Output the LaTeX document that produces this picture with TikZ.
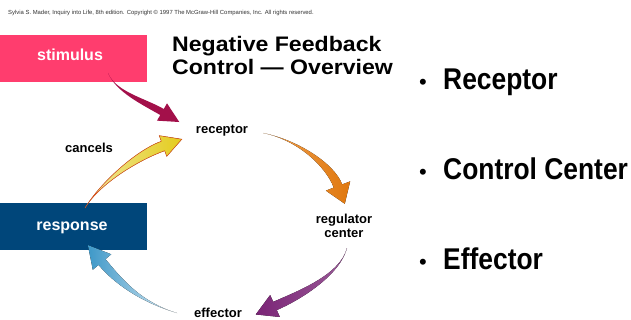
\documentclass[tikz,border=0pt]{standalone}
\usepackage{fontspec}
\setmainfont{Liberation Sans}
\usetikzlibrary{calc}
\definecolor{pinkbox}{HTML}{FF3D6E}
\definecolor{bluebox}{HTML}{00467A}
\definecolor{crimson}{HTML}{A3104A}
\definecolor{yelA}{HTML}{F0E8A0}
\definecolor{yelB}{HTML}{E4CC1C}
\definecolor{yelEdge}{HTML}{D8501C}
\definecolor{orgA}{HTML}{EFA050}
\definecolor{orgB}{HTML}{E0780E}
\definecolor{purA}{HTML}{9A5A98}
\definecolor{purB}{HTML}{7A2476}
\definecolor{bluA}{HTML}{3E98C8}
\definecolor{bluB}{HTML}{D6E8F2}
\newcommand{\tarrow}[8]{%
  \fill[#1] (#2) .. controls (#3) and ($(#4)!#6!-90:(#5)$) .. ($(#5)!#6!90:(#4)$)
    -- ($(#5)!#7!90:(#4)$) -- ($(#5)!-#8!(#4)$) -- ($(#5)!#7!-90:(#4)$)
    -- ($(#5)!#6!-90:(#4)$) .. controls ($(#4)!#6!90:(#5)$) and (#3) .. (#2) -- cycle;}
\tikzset{
  boxlabel/.style={text=white, font=\fontsize{16}{18}\selectfont\bfseries, anchor=base},
  cyclabel/.style={font=\fontsize{13}{14}\selectfont\bfseries, anchor=base, align=center},
  bullettext/.style={font=\fontsize{30}{32}\selectfont\bfseries, anchor=base west, inner sep=0pt},
  bulletdot/.style={font=\fontsize{22}{24}\selectfont, anchor=base, inner sep=0pt},
  titletext/.style={font=\fontsize{21}{23}\selectfont\bfseries, anchor=base west, inner sep=0pt}
}
\begin{document}
\begin{tikzpicture}[x=1pt,y=-1pt]
\useasboundingbox (0,0) rectangle (631,320);
\fill[white] (0,0) rectangle (631,320);
% copyright
\node[anchor=base west, inner sep=0pt, font=\fontsize{5.9}{6.5}\selectfont, text=black!80] (copy) at (8,15)
  {Sylvia S. Mader, Inquiry into Life, 8th edition. Copyright © 1997 The McGraw-Hill Companies, Inc. All rights reserved.};
% boxes
\fill[pinkbox] (0,35) rectangle (147,82);
\node[boxlabel] (stim) at (70,61) {stimulus};
\fill[bluebox] (0,203) rectangle (147,250);
\node[boxlabel] (resp) at (72,230) {response};
% title
\node[titletext] (t1) at (172,52) {\scalebox{1.1}[1]{Negative Feedback}};
\node[titletext] (t2) at (172,75) {\scalebox{1.1}[1]{Control — Overview}};
% cycle labels
\node[cyclabel] (rec) at (222,134) {receptor};
\node[cyclabel] (can) at (89,153) {cancels};
\node[cyclabel] (reg1) at (344,223) {regulator};
\node[cyclabel] (reg2) at (344,237) {center};
\node[cyclabel] (eff) at (218,317) {effector};
% arrows
\coordinate (sT) at (108,73); \coordinate (sC1) at (116,92); \coordinate (sC2) at (143,101); \coordinate (sE) at (162,112);
\tarrow{crimson}{sT}{sC1}{sC2}{sE}{3.5pt}{10pt}{20pt}
\coordinate (yT) at (85,208); \coordinate (yC1) at (100,183); \coordinate (yC2) at (138,155); \coordinate (yE) at (163,146);
\tarrow{left color=yelA,right color=yelB,draw=yelEdge,line width=0.5pt}{yT}{yC1}{yC2}{yE}{5pt}{11pt}{20pt}
\coordinate (oT) at (263,133); \coordinate (oC1) at (298,140); \coordinate (oC2) at (330,165); \coordinate (oE) at (338,186);
\tarrow{left color=orgA,right color=orgB}{oT}{oC1}{oC2}{oE}{4.5pt}{13pt}{19pt}
\coordinate (pT) at (347,248); \coordinate (pC1) at (340,275); \coordinate (pC2) at (300,295); \coordinate (pE) at (275,306);
\tarrow{left color=purB,right color=purA}{pT}{pC1}{pC2}{pE}{4.5pt}{12pt}{21pt}
\coordinate (bT) at (177,313); \coordinate (bC1) at (140,302); \coordinate (bC2) at (117,280); \coordinate (bE) at (102,262);
\tarrow{left color=bluA,right color=bluB}{bT}{bC1}{bC2}{bE}{4.5pt}{12pt}{22pt}
% bullets
\node[bulletdot] (d1) at (423,90) {•};
\node[bullettext] (b1) at (443,90) {\scalebox{0.88}[1]{Receptor}};
\node[bulletdot] (d2) at (423,180) {•};
\node[bullettext] (b2) at (443,180) {\scalebox{0.88}[1]{Control Center}};
\node[bulletdot] (d3) at (423,269) {•};
\node[bullettext] (b3) at (443,269) {\scalebox{0.88}[1]{Effector}};
\end{tikzpicture}
\end{document}
